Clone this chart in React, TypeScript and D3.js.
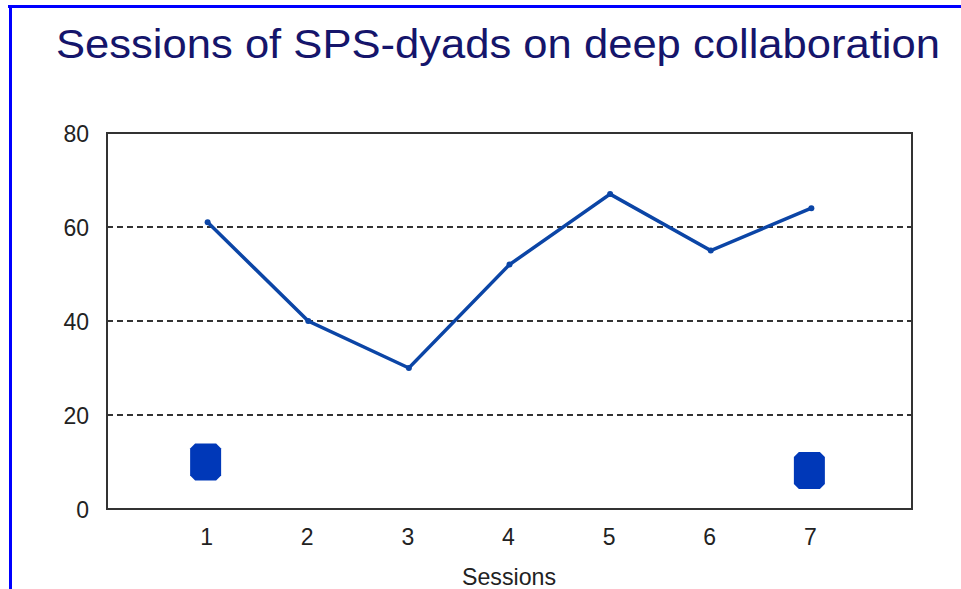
import React, { useEffect, useRef } from "react";
import * as d3 from "d3";

const sessions = [1, 2, 3, 4, 5, 6, 7];
const deepCollab = [61, 40, 30, 52, 67, 55, 64];
const markerSessions = [1, 7];
const markerValues = [10, 8.2];
const yTicks = [0, 20, 40, 60, 80];
const gridTicks = [20, 40, 60];
const titleText = "Sessions of SPS-dyads on deep collaboration";
const xAxisTitle = "Sessions";

const W = 961, H = 589;
const plot = { left: 107, right: 912, top: 133, bottom: 509 };

export default function App() {
  const ref = useRef<SVGSVGElement>(null);
  useEffect(() => {
    const svg = d3.select(ref.current);
    svg.selectAll("*").remove();
    const x = d3.scaleLinear().domain([0, 8]).range([plot.left, plot.right]);
    const y = d3.scaleLinear().domain([0, 80]).range([plot.bottom, plot.top]);

    svg.append("rect").attr("width", W).attr("height", H).attr("fill", "#fff");
    // blue frame
    svg.append("line").attr("x1", 8).attr("x2", W).attr("y1", 6.5).attr("y2", 6.5)
      .attr("stroke", "#0000ff").attr("stroke-width", 3);
    svg.append("line").attr("x1", 10.5).attr("x2", 10.5).attr("y1", 5).attr("y2", H)
      .attr("stroke", "#0000ff").attr("stroke-width", 3);

    svg.append("text").attr("x", 56).attr("y", 57.5)
      .attr("font-family", "Liberation Sans, Arial, sans-serif").attr("font-size", 41)
      .attr("textLength", 884).attr("lengthAdjust", "spacingAndGlyphs")
      .attr("fill", "#15156b").text(titleText);

    // grid
    svg.selectAll(".grid").data(gridTicks).enter().append("line")
      .attr("x1", plot.left).attr("x2", plot.right)
      .attr("y1", (d) => y(d)).attr("y2", (d) => y(d))
      .attr("stroke", "#333").attr("stroke-width", 1.8).attr("stroke-dasharray", "6,4");

    // frame
    svg.append("rect").attr("x", plot.left).attr("y", plot.top)
      .attr("width", plot.right - plot.left).attr("height", plot.bottom - plot.top)
      .attr("fill", "none").attr("stroke", "#333").attr("stroke-width", 2);

    const font = "Liberation Sans, Arial, sans-serif";
    svg.selectAll(".yt").data(yTicks).enter().append("text")
      .attr("x", 89).attr("y", (d) => y(d) + 9).attr("text-anchor", "end")
      .attr("font-family", font).attr("font-size", 23).attr("fill", "#222")
      .text((d) => d);
    svg.selectAll(".xt").data(sessions).enter().append("text")
      .attr("x", (d) => x(d) - 1).attr("y", 545).attr("text-anchor", "middle")
      .attr("font-family", font).attr("font-size", 23).attr("fill", "#222")
      .text((d) => d);
    svg.append("text").attr("x", 462).attr("y", 585)
      .attr("font-family", font).attr("font-size", 24).attr("fill", "#222")
      .attr("textLength", 94).attr("lengthAdjust", "spacingAndGlyphs").text(xAxisTitle);

    const line = d3.line<number>().x((_, i) => x(sessions[i])).y((d) => y(d));
    svg.append("path").attr("d", line(deepCollab)).attr("fill", "none")
      .attr("stroke", "#0b45a6").attr("stroke-width", 3.5).attr("stroke-linejoin", "miter");
    svg.selectAll(".pt").data(deepCollab).enter().append("circle")
      .attr("cx", (_, i) => x(sessions[i])).attr("cy", (d) => y(d)).attr("r", 3)
      .attr("fill", "#0b45a6");

    const hw = 15.5, hh = 18.5, b = 5;
    const oct = (cx: number, cy: number) =>
      `M${cx - hw + b},${cy - hh}L${cx + hw - b},${cy - hh}L${cx + hw},${cy - hh + b}L${cx + hw},${cy + hh - b}` +
      `L${cx + hw - b},${cy + hh}L${cx - hw + b},${cy + hh}L${cx - hw},${cy + hh - b}L${cx - hw},${cy - hh + b}Z`;
    svg.selectAll(".mk").data(markerValues).enter().append("path")
      .attr("d", (d, i) => oct(x(markerSessions[i]) - 2, y(d)))
      .attr("fill", "#0038b8");
  }, []);
  return <svg ref={ref} width={W} height={H} style={{ position: "absolute", left: 0, top: 0 }} />;
}
